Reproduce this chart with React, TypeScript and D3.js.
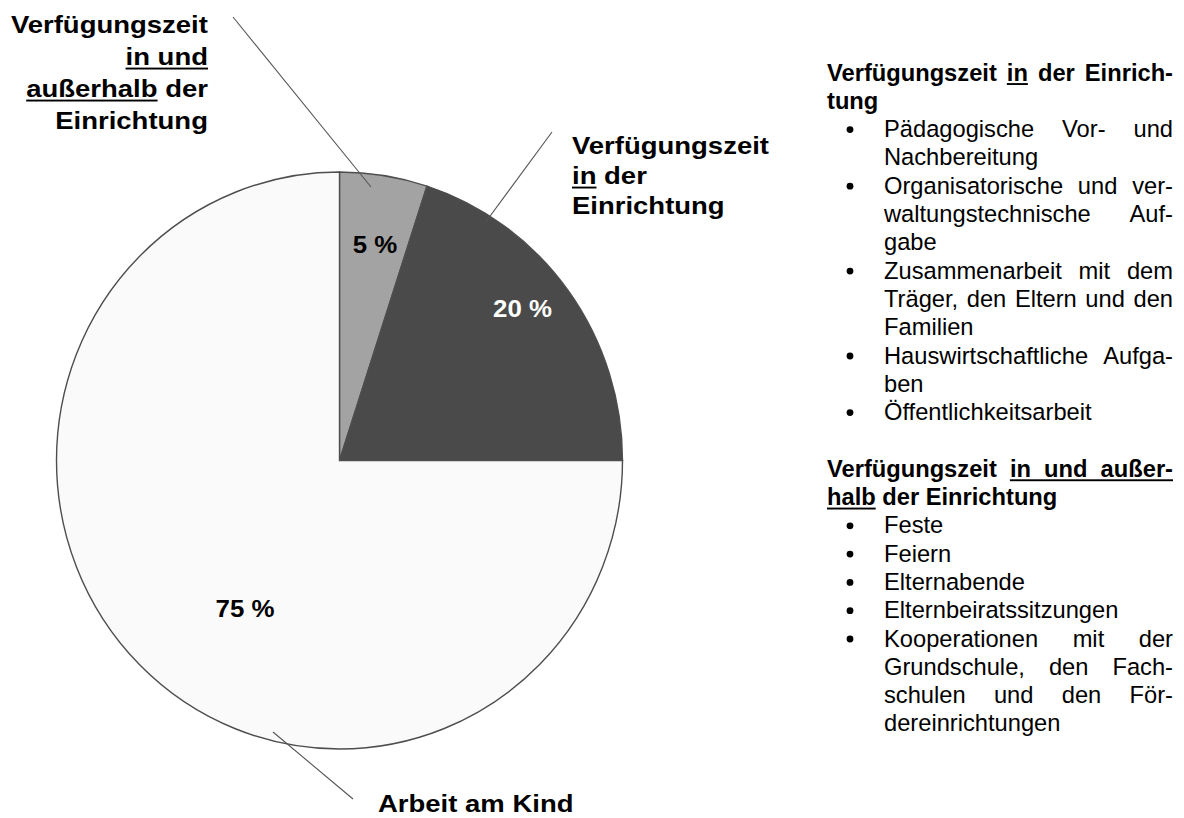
import React from 'react';
import * as d3 from 'd3';

// ---------- data ----------
const categories = [
  'Verfügungszeit in und außerhalb der Einrichtung',
  'Verfügungszeit in der Einrichtung',
  'Arbeit am Kind',
];
const shares = [5, 20, 75];
const percentLabels = ['5 %', '20 %', '75 %'];
const sliceColors = ['#a3a3a3', '#4a4a4a', '#fafafa'];
const percentColors = ['#000000', '#ffffff', '#000000'];

// outer labels: lines separated by '|', words prefixed with '_' are underlined
const outerLabels = [
  'Verfügungszeit|_in _und|_außerhalb der|Einrichtung',
  'Verfügungszeit|_in der|Einrichtung',
  'Arbeit am Kind',
];

// notes on the right
const notesInHeading = 'Verfügungszeit _in der Einrich-|tung';
const notesInItems = [
  'Pädagogische Vor- und|Nachbereitung',
  'Organisatorische und ver-|waltungstechnische Auf-|gabe',
  'Zusammenarbeit mit dem|Träger, den Eltern und den|Familien',
  'Hauswirtschaftliche Aufga-|ben',
  'Öffentlichkeitsarbeit',
];
const notesOutHeading = 'Verfügungszeit _in _und _außer-|_halb der Einrichtung';
const notesOutItems = [
  'Feste',
  'Feiern',
  'Elternabende',
  'Elternbeiratssitzungen',
  'Kooperationen mit der|Grundschule, den Fach-|schulen und den För-|dereinrichtungen',
];

// ---------- layout ----------
const W = 1184;
const H = 818;
const CX = 339.5;
const CY = 460.5;
const RX = 283;
const RY = 288.5;
const FONT = '"Liberation Sans", Arial, Helvetica, sans-serif';
const LABEL_SIZE = 23.5;
const LABEL_SCALE = 1.17;
const PCT_SCALE = 1.1;

const outerLayout = [
  { x: 208, anchor: 'end', y0: 33, lh: 32 },
  { x: 572, anchor: 'start', y0: 154, lh: 30 },
  { x: 378, anchor: 'start', y0: 812, lh: 0 },
];
const leaderLines = [
  { x1: 233, y1: 17, x2: 371, y2: 187 },
  { x1: 552, y1: 132, x2: 485, y2: 223 },
  { x1: 353, y1: 799, x2: 273, y2: 732 },
];
const pctPos = [
  { x: 375, y: 253 },
  { x: 522.5, y: 317 },
  { x: 245, y: 617 },
];

const NOTE_X0 = 827;
const NOTE_X1 = 1173;
const ITEM_X = 884;
const BULLET_X = 850;
const NOTE_Y0 = 80.5;
const NOTE_LH = 28.3;
const NOTE_SIZE = 23.7;

// ---------- helpers ----------
let ctx: CanvasRenderingContext2D | null = null;
function measure(text: string, font: string): number {
  if (!ctx) ctx = document.createElement('canvas').getContext('2d');
  if (!ctx) return text.length * 12;
  ctx.font = font;
  return ctx.measureText(text).width;
}

type Word = { w: string; u: boolean };
function parseLine(line: string): Word[] {
  return line.split(' ').map((t) => (t.startsWith('_') ? { w: t.slice(1), u: true } : { w: t, u: false }));
}

function layoutWords(words: Word[], x0: number, x1: number, font: string, justify: boolean) {
  const widths = words.map((wd) => measure(wd.w, font));
  const total = widths.reduce((a, b) => a + b, 0);
  const space = measure(' ', font);
  const gap = justify && words.length > 1 ? (x1 - x0 - total) / (words.length - 1) : space;
  let x = x0;
  const placed = words.map((wd, i) => {
    const p = { ...wd, x, width: widths[i] };
    x += widths[i] + gap;
    return p;
  });
  const runs: { xa: number; xb: number }[] = [];
  let cur: { xa: number; xb: number } | null = null;
  placed.forEach((p) => {
    if (p.u) {
      if (cur) cur.xb = p.x + p.width;
      else cur = { xa: p.x, xb: p.x + p.width };
    } else if (cur) {
      runs.push(cur);
      cur = null;
    }
  });
  if (cur) runs.push(cur);
  return { placed, runs };
}

export default function App() {
  const pie = d3.pie<number>().sort(null).startAngle(0).endAngle(2 * Math.PI);
  const arcs = pie(shares);
  const arc = d3.arc<d3.PieArcDatum<number>>().innerRadius(0).outerRadius(RX);

  const boldFont = `bold ${LABEL_SIZE}px ${FONT}`;

  const outerEls: React.ReactNode[] = [];
  outerLabels.forEach((lab, li) => {
    const L = outerLayout[li];
    lab.split('|').forEach((line, k) => {
      const words = parseLine(line);
      const lay = layoutWords(words, 0, 0, boldFont, false);
      const last = lay.placed[lay.placed.length - 1];
      const wUnscaled = last.x + last.width;
      const w = wUnscaled * LABEL_SCALE;
      const xs = L.anchor === 'end' ? L.x - w : L.x;
      const y = L.y0 + k * L.lh;
      outerEls.push(
        <g key={`ol-${li}-${k}`} transform={`translate(${xs},${y}) scale(${LABEL_SCALE},1)`}>
          {lay.placed.map((p, pi) => (
            <text key={pi} x={p.x} y={0} fontFamily={FONT} fontWeight="bold" fontSize={LABEL_SIZE} fill="#000">
              {p.w}
            </text>
          ))}
          {lay.runs.map((r, ri) => (
            <rect key={`u${ri}`} x={r.xa} y={2.6} width={r.xb - r.xa} height={1.9} fill="#000" />
          ))}
        </g>
      );
    });
  });

  const noteEls: React.ReactNode[] = [];
  const regFont = `${NOTE_SIZE}px ${FONT}`;
  const bFont = `bold ${NOTE_SIZE}px ${FONT}`;
  let row = 0;
  const addParagraph = (text: string, bold: boolean, bullet: boolean, key: string) => {
    const lines = text.split('|');
    const x0 = bullet ? ITEM_X : NOTE_X0;
    lines.forEach((line, k) => {
      const y = NOTE_Y0 + row * NOTE_LH;
      const words = parseLine(line);
      const justify = k < lines.length - 1;
      const lay = layoutWords(words, x0, NOTE_X1, bold ? bFont : regFont, justify);
      if (bullet && k === 0) {
        noteEls.push(<circle key={`${key}-b`} cx={BULLET_X} cy={y - 7.5} r={3.4} fill="#000" />);
      }
      lay.placed.forEach((p, pi) => {
        noteEls.push(
          <text
            key={`${key}-${k}-${pi}`}
            x={p.x}
            y={y}
            fontFamily={FONT}
            fontWeight={bold ? 'bold' : 'normal'}
            fontSize={NOTE_SIZE}
            fill="#000"
          >
            {p.w}
          </text>
        );
      });
      lay.runs.forEach((r, ri) => {
        noteEls.push(
          <rect key={`${key}-${k}-u${ri}`} x={r.xa} y={y + 2.6} width={r.xb - r.xa} height={1.9} fill="#000" />
        );
      });
      row += 1;
    });
  };
  addParagraph(notesInHeading, true, false, 'h1');
  notesInItems.forEach((t, i) => addParagraph(t, false, true, `i1-${i}`));
  row += 1;
  addParagraph(notesOutHeading, true, false, 'h2');
  notesOutItems.forEach((t, i) => addParagraph(t, false, true, `i2-${i}`));

  return (
    <svg
      width={W}
      height={H}
      viewBox={`0 0 ${W} ${H}`}
      style={{ position: 'absolute', left: 0, top: 0, background: '#ffffff' }}
    >
      <rect x={0} y={0} width={W} height={H} fill="#ffffff" />
      <g transform={`translate(${CX},${CY}) scale(1,${RY / RX})`}>
        {arcs.map((a, i) => (
          <path
            key={categories[i]}
            d={arc(a) || ''}
            fill={sliceColors[i]}
            stroke="#4e4e4e"
            strokeWidth={1.4}
            vectorEffect="non-scaling-stroke"
            strokeLinejoin="miter"
          />
        ))}
      </g>
      {leaderLines.map((l, i) => (
        <line key={`ld-${i}`} x1={l.x1} y1={l.y1} x2={l.x2} y2={l.y2} stroke="#555555" strokeWidth={1.1} />
      ))}
      {percentLabels.map((t, i) => (
        <text
          key={`pct-${i}`}
          transform={`translate(${pctPos[i].x},${pctPos[i].y}) scale(${PCT_SCALE},1)`}
          textAnchor="middle"
          fontFamily={FONT}
          fontWeight="bold"
          fontSize={LABEL_SIZE}
          fill={percentColors[i]}
        >
          {t}
        </text>
      ))}
      {outerEls}
      {noteEls}
    </svg>
  );
}
